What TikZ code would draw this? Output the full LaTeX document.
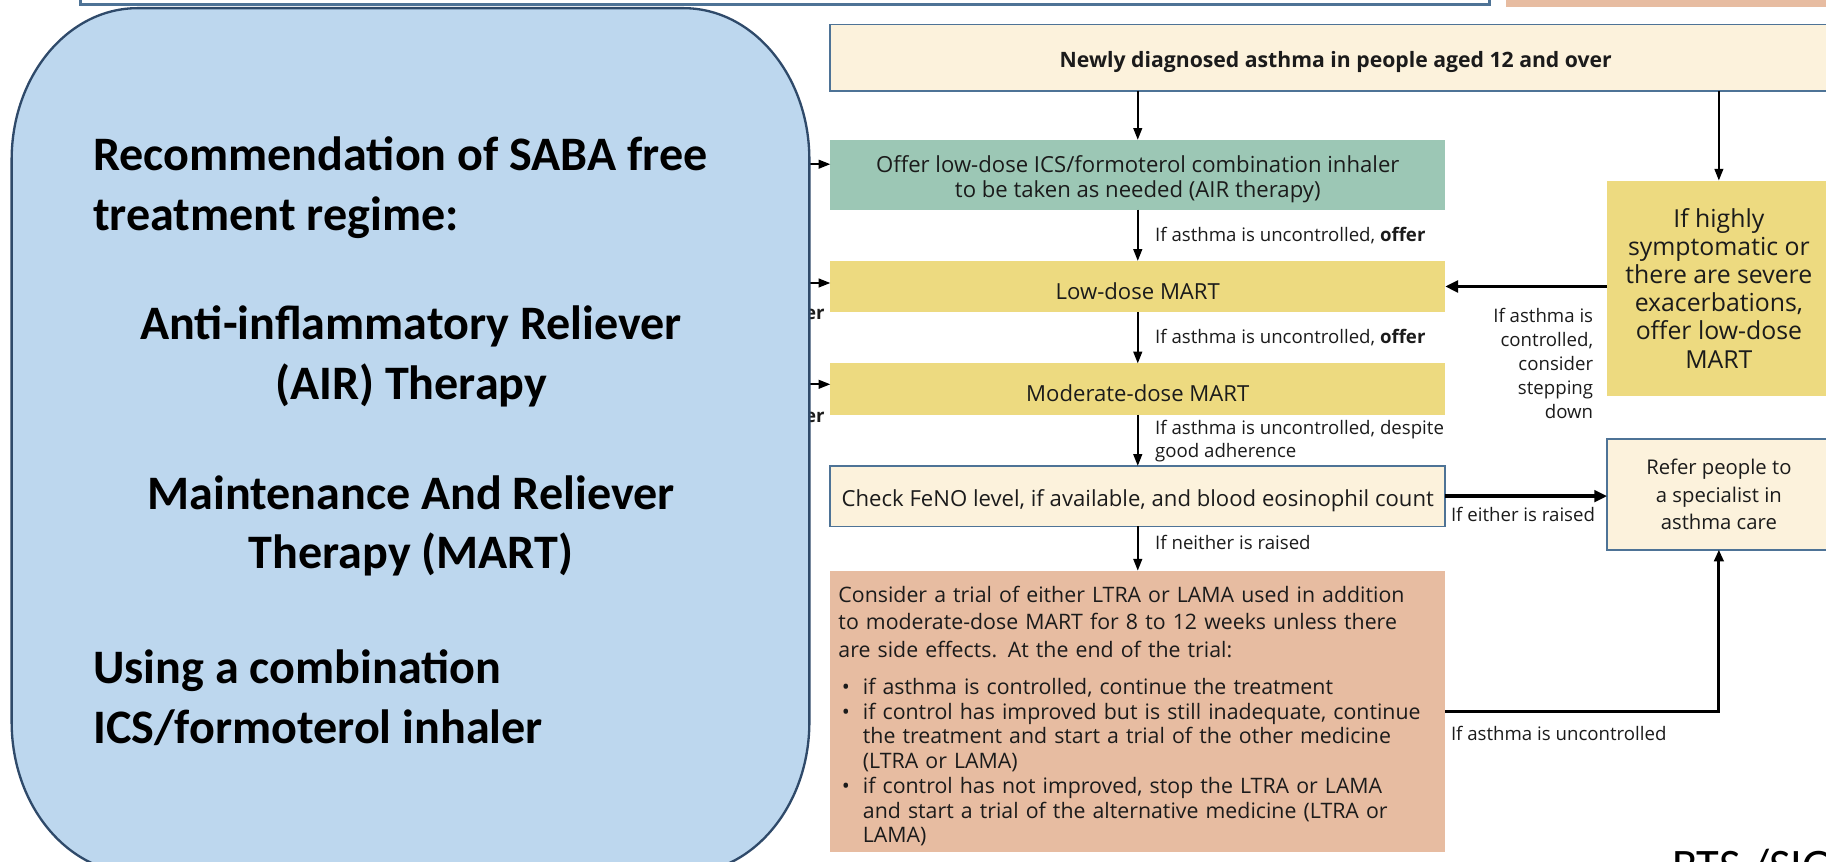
\documentclass[tikz,border=0pt]{standalone}
\usepackage{fontspec}
\setmainfont{Open Sans}
\newfontfamily\calibri{Carlito}
\usetikzlibrary{arrows.meta}
\definecolor{ink}{HTML}{1B1B1B}
\definecolor{bluefill}{HTML}{BDD7EE}
\definecolor{bluedge}{HTML}{2F4A6A}
\definecolor{creamfill}{HTML}{FCF2DC}
\definecolor{steel}{HTML}{4E7396}
\definecolor{airgreen}{HTML}{9CC7B5}
\definecolor{martyellow}{HTML}{EDDA80}
\definecolor{trialorange}{HTML}{E7BCA1}
\newcommand\blt{\makebox[21pt][l]{\hspace{3pt}\textbullet}}
\newcommand\ind{\hspace*{21pt}}
\begin{document}
\begin{tikzpicture}[x=1pt,y=-1pt,
  plain/.style={inner sep=0pt, outer sep=0pt, text=ink, align=center},
  flow/.style={plain, font=\fontsize{19}{22}\selectfont},
  boxtext/.style={flow, yshift=-4pt},
  lab/.style={inner sep=0pt, outer sep=0pt, text=ink, font=\fontsize{16}{20.75}\selectfont},
  arr/.style={draw=black, line width=1.5pt, -{Triangle[length=10pt,width=7.5pt]}},
  bigarr/.style={draw=black, line width=3pt, -{Triangle[length=11pt,width=10pt]}},
  bigline/.style={draw=black, line width=2.6pt},
  bigtext/.style={inner sep=0pt, outer sep=0pt, text=black, font=\calibri\bfseries\fontsize{41.3}{51}\selectfont},
]
\useasboundingbox (0,0) rectangle (1568,740);
\clip (0,0) rectangle (1568,740);

% cut-off boxes at the top
\node[draw=steel, line width=2pt, fill=white, minimum width=1210pt, minimum height=40pt, anchor=south west, inner sep=0pt] (topl) at (68,5) {};
\node[fill=trialorange, minimum width=300pt, minimum height=40pt, anchor=south west, inner sep=0pt] (topr) at (1293,6) {};

% flowchart boxes
\node[flow, draw=steel, line width=1.5pt, fill=creamfill, minimum width=868pt, minimum height=57pt] (newly) at (1147,49.5) {};
\node[boxtext, font=\bfseries\fontsize{18.2}{20}\selectfont] (newlyt) at (newly.center) {Newly diagnosed asthma in people aged 12 and over};
\node[flow, fill=airgreen, minimum width=528pt, minimum height=60pt] (air) at (977,150) {};
\node[boxtext] (airtx) at (air.center) {Offer low-dose ICS/formoterol combination inhaler\\to be taken as needed (AIR therapy)};
\node[flow, fill=martyellow, minimum width=528pt, minimum height=44pt] (low) at (977,246) {};
\node[boxtext] (lowt) at (low.center) {Low-dose MART};
\node[flow, fill=martyellow, minimum width=528pt, minimum height=44pt] (mod) at (977,334) {};
\node[boxtext] (modt) at (mod.center) {Moderate-dose MART};
\node[flow, draw=steel, line width=1.5pt, fill=creamfill, minimum width=528pt, minimum height=52pt] (check) at (977,426) {};
\node[boxtext] (checkt) at (check.center) {Check FeNO level, if available, and blood eosinophil count};
\node[flow, fill=trialorange, minimum width=528pt, minimum height=242pt] (trial) at (977,611) {};
\node[boxtext, text width=514pt, align=left, font=\fontsize{18.3}{23.5}\selectfont] (trialt) at (trial.center) {Consider a trial of either LTRA or LAMA used in addition\\to moderate-dose MART for 8 to 12 weeks unless there\\are side effects. At the end of the trial:\\[8.5pt]
\blt if asthma is controlled, continue the treatment\\[-2.3pt]
\blt if control has improved but is still inadequate, continue\\[-2.3pt]
\ind the treatment and start a trial of the other medicine\\[-2.3pt]
\ind (LTRA or LAMA)\\[-2.3pt]
\blt if control has not improved, stop the LTRA or LAMA\\[-2.3pt]
\ind and start a trial of the alternative medicine (LTRA or\\[-2.3pt]
\ind LAMA)};
\node[flow, fill=martyellow, minimum width=192pt, minimum height=185pt, font=\fontsize{21.3}{24.2}\selectfont] (sev) at (1476,247.5) {If highly\\symptomatic or\\there are severe\\exacerbations,\\offer low-dose\\MART};
\node[flow, draw=steel, line width=1.5pt, fill=creamfill, minimum width=192pt, minimum height=95pt, font=\fontsize{17.4}{23.5}\selectfont] (refer) at (1476,424.5) {Refer people to\\a specialist in\\asthma care};

% connectors
\draw[arr] (air.north |- newly.south) -- (air.north);
\draw[arr] (sev.north |- newly.south) -- (sev.north);
\draw[arr] (air.south) -- (low.north);
\draw[arr] (low.south) -- (mod.north);
\draw[arr] (mod.south) -- (check.north);
\draw[arr] (check.south) -- (trial.north);
\draw[bigarr] (check.east) -- (check.east -| refer.west);
\draw[bigarr] (sev.west |- low.east) -- (low.east);
\draw[bigline, -{Triangle[length=10pt,width=8pt]}] (trial.east) -- (trial.east -| refer.south) -- (refer.south);

% connector labels
\node[lab, anchor=west] (l1) at (992,202) {If asthma is uncontrolled, \textbf{offer}};
\node[lab, anchor=west] (l2) at (992,290) {If asthma is uncontrolled, \textbf{offer}};
\node[lab, anchor=west, align=left, font=\fontsize{16}{20}\selectfont] (l3) at (992,379) {If asthma is uncontrolled, despite\\good adherence};
\node[lab, anchor=west] (l4) at (992,466) {If neither is raised};
\node[lab, anchor=west] (l5) at (1246,442) {If either is raised};
\node[lab, anchor=west] (l6) at (1246,630) {If asthma is uncontrolled};
\node[lab, anchor=east, align=right] (l7) at (1368,312) {If asthma is\\controlled,\\consider\\stepping\\down};

% arrows coming from behind the blue panel
\coordinate (inA) at (640,141);
\coordinate (inB) at (640,243);
\coordinate (inC) at (640,330);
\draw[arr] (inA) -- (inA -| air.west);
\draw[arr] (inB) -- (inB -| low.west);
\draw[arr] (inC) -- (inC -| mod.west);
\node[lab, anchor=east] (offA) at (708,268) {\textbf{offer}};
\node[lab, anchor=east] (offB) at (708,357) {\textbf{offer}};

% blue panel
\path[draw=bluedge, line width=2pt, fill=bluefill] (10,137) .. controls (10,65.2) and (58.4,7) .. (118,7) -- (587,7) .. controls (646.6,7) and (695,65.2) .. (695,137) -- (695,620) .. controls (695,691.8) and (646.6,750) .. (587,750) -- (118,750) .. controls (58.4,750) and (10,691.8) .. (10,620) -- cycle;

\node[bigtext, anchor=west, align=left] (rec) at (80,161) {Recommendation of SABA free\\treatment regime:};
\node[bigtext, align=center] (airt) at (353,306) {Anti-inflammatory Reliever\\(AIR) Therapy};
\node[bigtext, align=center] (mart) at (353,451.5) {Maintenance And Reliever\\Therapy (MART)};
\node[bigtext, anchor=west, align=left] (using) at (80,599) {Using a combination\\ICS/formoterol inhaler};

\node[inner sep=0pt, anchor=base west, text=black, font=\calibri\fontsize{40}{44}\selectfont] (bts) at (1436,757) {BTS /SIGN};
\end{tikzpicture}
\end{document}
